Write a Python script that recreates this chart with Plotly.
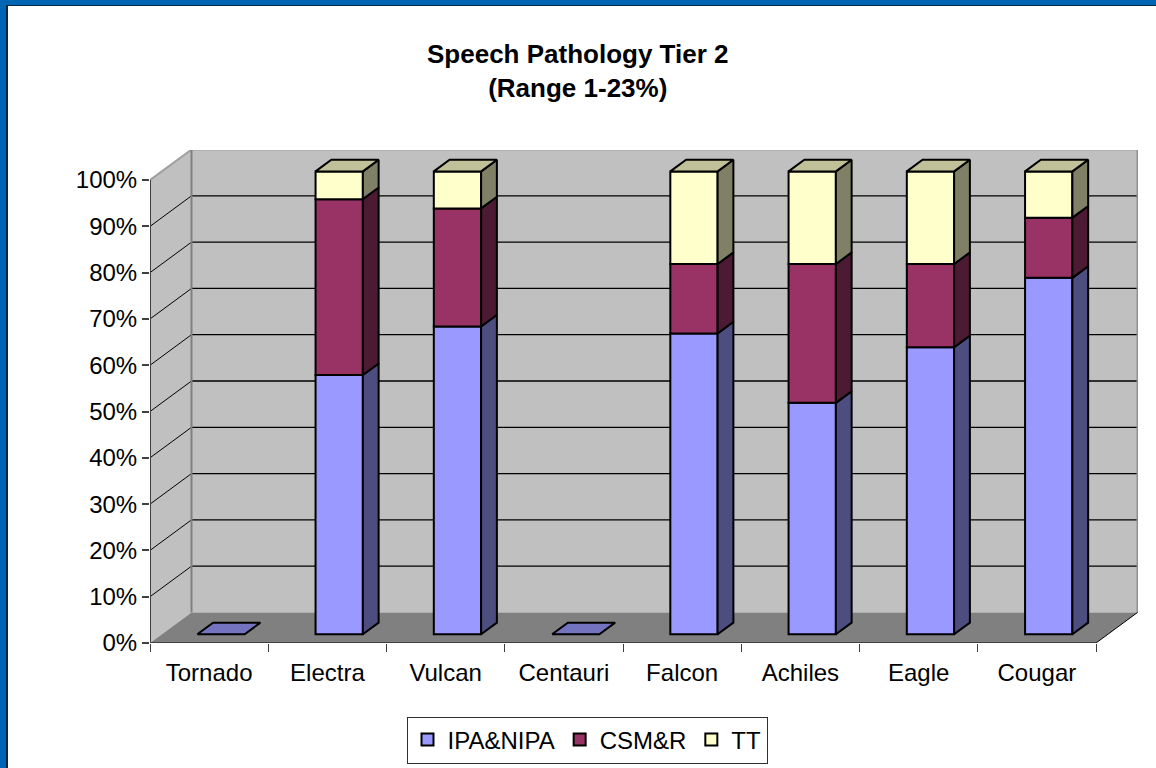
import plotly.graph_objects as go

# ---- data ----
categories = ["Tornado", "Electra", "Vulcan", "Centauri", "Falcon", "Achiles", "Eagle", "Cougar"]
ipa_nipa = [0, 56, 66.5, 0, 65, 50, 62, 77]
csm_r = [0, 38, 25.5, 0, 15, 30, 18, 13]
tt = [0, 6, 8, 0, 20, 20, 20, 10]
series_names = ["IPA&NIPA", "CSM&R", "TT"]
y_ticks = [0, 10, 20, 30, 40, 50, 60, 70, 80, 90, 100]
y_tick_labels = ["0%", "10%", "20%", "30%", "40%", "50%", "60%", "70%", "80%", "90%", "100%"]

# ---- style ----
W, H = 1156, 768
FONT = "Liberation Sans, Arial, sans-serif"
FRONT = ["#9999FF", "#993366", "#FFFFCC"]
SIDE = ["#4D4D80", "#4D1A33", "#808066"]
TOP = ["#7373BF", "#732650", "#C0C099"]
DX, DY = 0.351, 6.6          # oblique depth of the box, in axis units
D0, D1 = 0.285, 0.665        # bars' front and back, as fraction of depth
BAR_W = 0.4
XMIN, XMAX = -0.5, 7.855
YMAX = 106.5
EDGE = 2


def px(v):
    return v / W


def py(v):
    return 1 - v / H


def poly(points):
    return "M" + "L".join(f"{x},{y}" for x, y in points) + "Z"


values = [ipa_nipa, csm_r, tt]
fig = go.Figure()

# front faces: real stacked bars, lifted along the depth direction
bottoms = [0] * len(categories)
stack = []
for s, vals in enumerate(values):
    bases = list(bottoms)
    stack.append(bases)
    fig.add_trace(go.Bar(
        name=series_names[s],
        x=[i + D0 * DX for i in range(len(categories))],
        y=[v if v > 0 else None for v in vals],
        base=[b + D0 * DY for b in bases],
        width=BAR_W,
        marker=dict(color=FRONT[s], line=dict(color="black", width=EDGE)),
        cliponaxis=False,
    ))
    bottoms = [b + v for b, v in zip(bottoms, vals)]


def add_faces(xs, ys, color):
    fig.add_trace(go.Scatter(
        x=xs, y=ys, mode="lines", fill="toself", fillcolor=color,
        line=dict(color="black", width=EDGE), showlegend=False,
        hoverinfo="skip", cliponaxis=False,
    ))


# side faces
for s, vals in enumerate(values):
    xs, ys = [], []
    for i, v in enumerate(vals):
        if v <= 0:
            continue
        xa = i + BAR_W / 2 + D0 * DX
        xb = i + BAR_W / 2 + D1 * DX
        lo, hi = stack[s][i], stack[s][i] + v
        xs += [xa, xb, xb, xa, xa, None]
        ys += [lo + D0 * DY, lo + D1 * DY, hi + D1 * DY, hi + D0 * DY, lo + D0 * DY, None]
    add_faces(xs, ys, SIDE[s])

# top faces: TT colour on full stacks, IPA colour where the stack is empty
for group, color in ((True, TOP[2]), (False, TOP[0])):
    xs, ys = [], []
    for i, total in enumerate(bottoms):
        if (total > 0) != group:
            continue
        xl = i - BAR_W / 2
        xr = i + BAR_W / 2
        xs += [xl + D0 * DX, xr + D0 * DX, xr + D1 * DX, xl + D1 * DX, xl + D0 * DX, None]
        ys += [total + D0 * DY, total + D0 * DY, total + D1 * DY, total + D1 * DY, total + D0 * DY, None]
    add_faces(xs, ys, color)

# category axis holder (ticks on boundaries, labels centred)
fig.add_trace(go.Scatter(x=categories, y=[None] * len(categories), xaxis="x2", showlegend=False,
                         hoverinfo="skip", mode="markers"))

shapes = [
    dict(type="rect", xref="paper", yref="paper", x0=px(6), x1=1, y0=0, y1=py(5),
         fillcolor="#0A2540", line_width=0, layer="below"),
    dict(type="rect", xref="paper", yref="paper", x0=px(8), x1=1, y0=0, y1=py(6),
         fillcolor="white", line_width=0, layer="below"),
]
data_shape = dict(xref="x", yref="y", layer="below")
X_END = len(categories) - 0.5
# walls and floor
shapes.append(dict(type="path", path=poly([(XMIN + DX, DY), (X_END + DX, DY), (X_END + DX, 100 + DY), (XMIN + DX, 100 + DY)]),
                   fillcolor="#C0C0C0", line_width=0, **data_shape))
shapes.append(dict(type="path", path=poly([(XMIN, 0), (XMIN + DX, DY), (XMIN + DX, 100 + DY), (XMIN, 100)]),
                   fillcolor="#C0C0C0", line_width=0, **data_shape))
shapes.append(dict(type="path", path=poly([(XMIN, 0), (X_END, 0), (X_END + DX, DY), (XMIN + DX, DY)]),
                   fillcolor="#808080", line_width=0, **data_shape))
# gridlines
for v in y_ticks[1:-1]:
    shapes.append(dict(type="line", x0=XMIN, y0=v, x1=XMIN + DX, y1=v + DY, line=dict(color="black", width=1), **data_shape))
    shapes.append(dict(type="line", x0=XMIN + DX, y0=v + DY, x1=X_END + DX, y1=v + DY, line=dict(color="black", width=1.3), **data_shape))
# box edges
gray = dict(color="#A0A0A0", width=2)
shapes.append(dict(type="line", x0=XMIN, y0=100, x1=XMIN + DX, y1=100 + DY, line=gray, **data_shape))
shapes.append(dict(type="line", x0=XMIN + DX, y0=100 + DY, x1=X_END + DX, y1=100 + DY, line=gray, **data_shape))
shapes.append(dict(type="line", x0=X_END + DX, y0=DY, x1=X_END + DX, y1=100 + DY, line=dict(color="#909090", width=2), **data_shape))
shapes.append(dict(type="line", x0=XMIN + DX, y0=DY, x1=XMIN + DX, y1=100 + DY, line=dict(color="#808080", width=2), **data_shape))
shapes.append(dict(type="line", x0=X_END, y0=0, x1=X_END + DX, y1=DY, line=dict(color="black", width=1), **data_shape))
# axis lines
axis_line = dict(color="#404040", width=2)
shapes.append(dict(type="line", x0=XMIN, y0=0, x1=XMIN, y1=100, line=axis_line, xref="x", yref="y", layer="above"))
shapes.append(dict(type="line", x0=XMIN, y0=0, x1=X_END, y1=0, line=axis_line, xref="x", yref="y", layer="above"))

x_domain = [px(150), px(1138)]
y_domain = [py(643), py(150)]
tick_font = dict(family=FONT, size=24, color="black")

fig.update_layout(
    width=W, height=H, autosize=False,
    margin=dict(l=0, r=0, t=0, b=0, autoexpand=False),
    paper_bgcolor="#0066B3", plot_bgcolor="rgba(0,0,0,0)",
    barmode="overlay",
    showlegend=True,
    shapes=shapes,
    xaxis=dict(domain=x_domain, range=[XMIN, XMAX], visible=False, fixedrange=True),
    xaxis2=dict(domain=x_domain, overlaying="x", anchor="y", side="bottom", type="category",
                categoryorder="array", categoryarray=categories,
                range=[XMIN, XMAX], tickson="boundaries", ticks="outside", ticklen=8, tickwidth=1,
                tickcolor="#404040", showgrid=False, zeroline=False, showline=False,
                tickfont=tick_font, ticklabelstandoff=13),
    yaxis=dict(domain=y_domain, range=[0, YMAX], tickmode="array", tickvals=y_ticks, ticktext=y_tick_labels,
               ticks="outside", ticklen=7, tickwidth=2, tickcolor="#404040", showgrid=False,
               zeroline=False, showline=False, tickfont=tick_font, fixedrange=True),
    annotations=[dict(
        text="<b>Speech Pathology Tier 2<br>(Range 1-23%)</b>", xref="paper", yref="paper",
        x=px(578), y=py(71), xanchor="center", yanchor="middle", showarrow=False,
        font=dict(family=FONT, size=26, color="black"),
    )],
    legend=dict(
        orientation="h", x=px(587), y=py(740), xanchor="center", yanchor="middle",
        bgcolor="white", bordercolor="#303030", borderwidth=1,
        font=dict(family=FONT, size=24, color="black"), itemclick=False, itemdoubleclick=False,
        itemwidth=30, traceorder="normal",
    ),
)

fig.write_html("out.html", config=dict(displayModeBar=False),
               post_script="document.body.style.margin='0';document.body.style.overflow='hidden';")
